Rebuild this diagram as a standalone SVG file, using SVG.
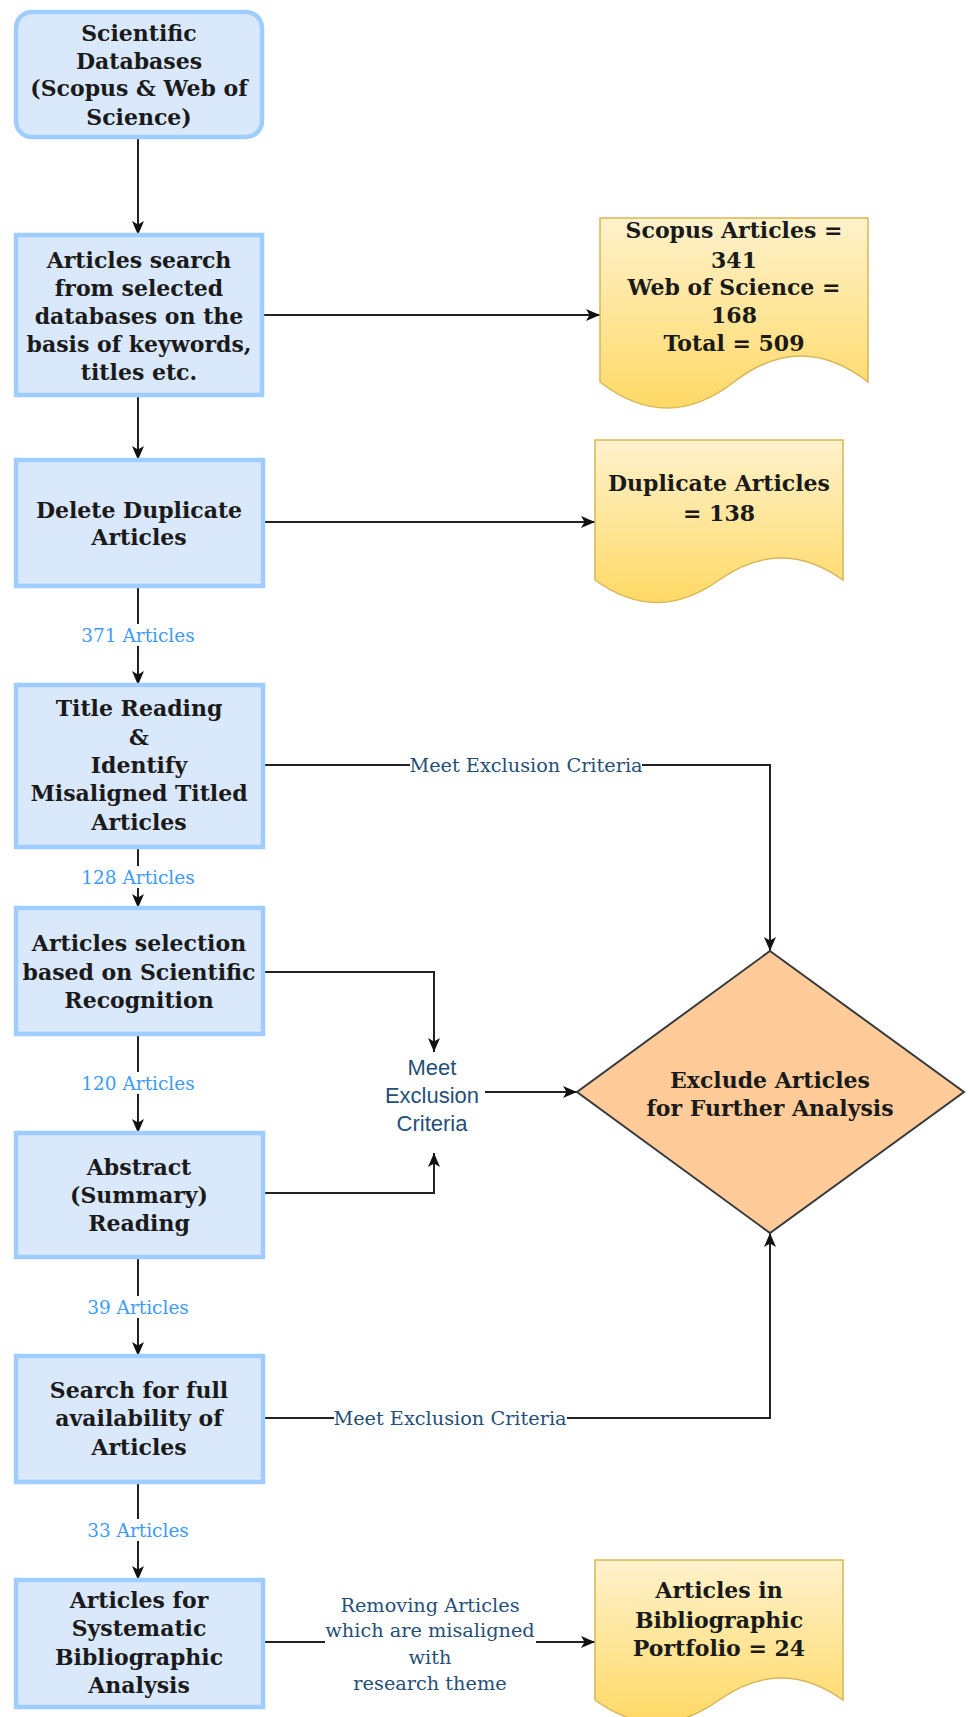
<svg xmlns="http://www.w3.org/2000/svg" width="968" height="1717" viewBox="0 0 968 1717">
  <defs>
    <linearGradient id="docFill" x1="0" y1="0" x2="0" y2="1">
      <stop offset="0" stop-color="#fff2cc"/>
      <stop offset="1" stop-color="#ffd966"/>
    </linearGradient>
    <marker id="arrow" viewBox="0 0 14 12" refX="14" refY="6" markerWidth="14" markerHeight="12" markerUnits="userSpaceOnUse" orient="auto">
      <path d="M0,0 L14,6 L0,12 L3.5,6 Z" fill="#111"/>
    </marker>
    <style>
      .step { fill: #dae8fc; stroke: #9fcdff; stroke-width: 4.5; }
      .doc { fill: url(#docFill); stroke: #d6b656; stroke-width: 1.5; }
      .decision { fill: #ffcc99; stroke: #36393d; stroke-width: 2; }
      .t { font-family: "DejaVu Serif", "Liberation Serif", serif; font-weight: bold; font-size: 22px; fill: #1a1a1a; text-anchor: middle; dominant-baseline: central; }
      .count { font-family: "DejaVu Serif", "Liberation Serif", serif; font-size: 18.5px; fill: #3d9bff; text-anchor: middle; dominant-baseline: central; }
      .why { font-family: "DejaVu Serif", "Liberation Serif", serif; font-size: 19.3px; fill: #264f78; text-anchor: middle; dominant-baseline: central; }
      .whySans { font-family: "Liberation Sans", Arial, sans-serif; font-size: 22px; fill: #264f78; text-anchor: middle; dominant-baseline: central; }
      .edge { fill: none; stroke: #222; stroke-width: 2; }
      .bg { fill: #ffffff; }
    </style>
  </defs>

  <!-- connectors -->
  <g id="connectors">
    <path class="edge" d="M138,137 V235" marker-end="url(#arrow)"/>
    <path class="edge" d="M262,315 H600" marker-end="url(#arrow)"/>
    <path class="edge" d="M138,395 V460" marker-end="url(#arrow)"/>
    <path class="edge" d="M263,522 H595" marker-end="url(#arrow)"/>
    <path class="edge" d="M138,586 V685" marker-end="url(#arrow)"/>
    <path class="edge" d="M263,765 H770 V951" marker-end="url(#arrow)"/>
    <path class="edge" d="M138,847 V908" marker-end="url(#arrow)"/>
    <path class="edge" d="M263,972 H434 V1052" marker-end="url(#arrow)"/>
    <path class="edge" d="M263,1193 H434 V1153" marker-end="url(#arrow)"/>
    <path class="edge" d="M485,1092 H577" marker-end="url(#arrow)"/>
    <path class="edge" d="M138,1034 V1133" marker-end="url(#arrow)"/>
    <path class="edge" d="M138,1257 V1356" marker-end="url(#arrow)"/>
    <path class="edge" d="M263,1418 H770 V1233" marker-end="url(#arrow)"/>
    <path class="edge" d="M138,1482 V1580" marker-end="url(#arrow)"/>
    <path class="edge" d="M263,1642 H595" marker-end="url(#arrow)"/>

    <!-- edge labels -->
    <rect class="bg" x="80" y="624" width="116" height="22"/>
    <text class="count" x="138" y="635">371 Articles</text>
    <rect class="bg" x="80" y="866" width="116" height="22"/>
    <text class="count" x="138" y="877">128 Articles</text>
    <rect class="bg" x="80" y="1072" width="116" height="22"/>
    <text class="count" x="138" y="1083">120 Articles</text>
    <rect class="bg" x="85" y="1296" width="106" height="22"/>
    <text class="count" x="138" y="1307">39 Articles</text>
    <rect class="bg" x="85" y="1519" width="106" height="22"/>
    <text class="count" x="138" y="1530">33 Articles</text>

    <rect class="bg" x="410" y="754" width="232" height="22"/>
    <text class="why" x="526" y="765">Meet Exclusion Criteria</text>
    <rect class="bg" x="334" y="1407" width="233" height="22"/>
    <text class="why" x="450" y="1418">Meet Exclusion Criteria</text>
    <rect class="bg" x="325" y="1592" width="211" height="104"/>
    <text class="why" x="430" y="1605">Removing Articles</text>
    <text class="why" x="430" y="1630">which are misaligned</text>
    <text class="why" x="430" y="1657">with</text>
    <text class="why" x="430" y="1683">research theme</text>
  </g>

  <!-- process steps -->
  <g id="databases">
    <rect class="step" x="16" y="12" width="246" height="125" rx="16"/>
    <text class="t" x="139" y="33">Scientific</text>
    <text class="t" x="139" y="61">Databases</text>
    <text class="t" x="139" y="88">(Scopus &amp; Web of</text>
    <text class="t" x="139" y="117">Science)</text>
  </g>
  <g id="search">
    <rect class="step" x="16" y="235" width="246" height="160"/>
    <text class="t" x="139" y="260">Articles search</text>
    <text class="t" x="139" y="288">from selected</text>
    <text class="t" x="139" y="316">databases on the</text>
    <text class="t" x="139" y="344">basis of keywords,</text>
    <text class="t" x="139" y="372">titles etc.</text>
  </g>
  <g id="dedupe">
    <rect class="step" x="16" y="460" width="247" height="126"/>
    <text class="t" x="139" y="510">Delete Duplicate</text>
    <text class="t" x="139" y="537">Articles</text>
  </g>
  <g id="titles">
    <rect class="step" x="16" y="685" width="247" height="162"/>
    <text class="t" x="139" y="708">Title Reading</text>
    <text class="t" x="139" y="737">&amp;</text>
    <text class="t" x="139" y="765">Identify</text>
    <text class="t" x="139" y="793">Misaligned Titled</text>
    <text class="t" x="139" y="822">Articles</text>
  </g>
  <g id="recognition">
    <rect class="step" x="16" y="908" width="247" height="126"/>
    <text class="t" x="139" y="943">Articles selection</text>
    <text class="t" x="139" y="972">based on Scientific</text>
    <text class="t" x="139" y="1000">Recognition</text>
  </g>
  <g id="abstract">
    <rect class="step" x="16" y="1133" width="247" height="124"/>
    <text class="t" x="139" y="1167">Abstract</text>
    <text class="t" x="139" y="1195">(Summary)</text>
    <text class="t" x="139" y="1223">Reading</text>
  </g>
  <g id="availability">
    <rect class="step" x="16" y="1356" width="247" height="126"/>
    <text class="t" x="139" y="1390">Search for full</text>
    <text class="t" x="139" y="1418">availability of</text>
    <text class="t" x="139" y="1447">Articles</text>
  </g>
  <g id="systematic">
    <rect class="step" x="16" y="1580" width="247" height="127"/>
    <text class="t" x="139" y="1600">Articles for</text>
    <text class="t" x="139" y="1628">Systematic</text>
    <text class="t" x="139" y="1657">Bibliographic</text>
    <text class="t" x="139" y="1685">Analysis</text>
  </g>

  <!-- exclusion reason label node -->
  <g id="exclusion-reason">
    <text class="whySans" x="432" y="1067">Meet</text>
    <text class="whySans" x="432" y="1095">Exclusion</text>
    <text class="whySans" x="432" y="1123">Criteria</text>
  </g>

  <!-- decision -->
  <g id="exclude">
    <polygon class="decision" points="770,951 964,1092 770,1233 577,1092"/>
    <text class="t" x="770" y="1080">Exclude Articles</text>
    <text class="t" x="770" y="1108">for Further Analysis</text>
  </g>

  <!-- document outputs -->
  <g id="totals">
    <path class="doc" d="M600,218 H868 V382 Q801,330 734,382 Q667,434 600,382 Z"/>
    <text class="t" x="734" y="230">Scopus Articles =</text>
    <text class="t" x="734" y="260">341</text>
    <text class="t" x="734" y="287">Web of Science =</text>
    <text class="t" x="734" y="315">168</text>
    <text class="t" x="734" y="343">Total = 509</text>
  </g>
  <g id="duplicates">
    <path class="doc" d="M595,440 H843 V580 Q781,536 719,580 Q657,625 595,580 Z"/>
    <text class="t" x="719" y="483">Duplicate Articles</text>
    <text class="t" x="719" y="513">= 138</text>
  </g>
  <g id="portfolio">
    <path class="doc" d="M595,1560 H843 V1700 Q781,1656 719,1700 Q657,1745 595,1700 Z"/>
    <text class="t" x="719" y="1590">Articles in</text>
    <text class="t" x="719" y="1620">Bibliographic</text>
    <text class="t" x="719" y="1648">Portfolio = 24</text>
  </g>
</svg>
